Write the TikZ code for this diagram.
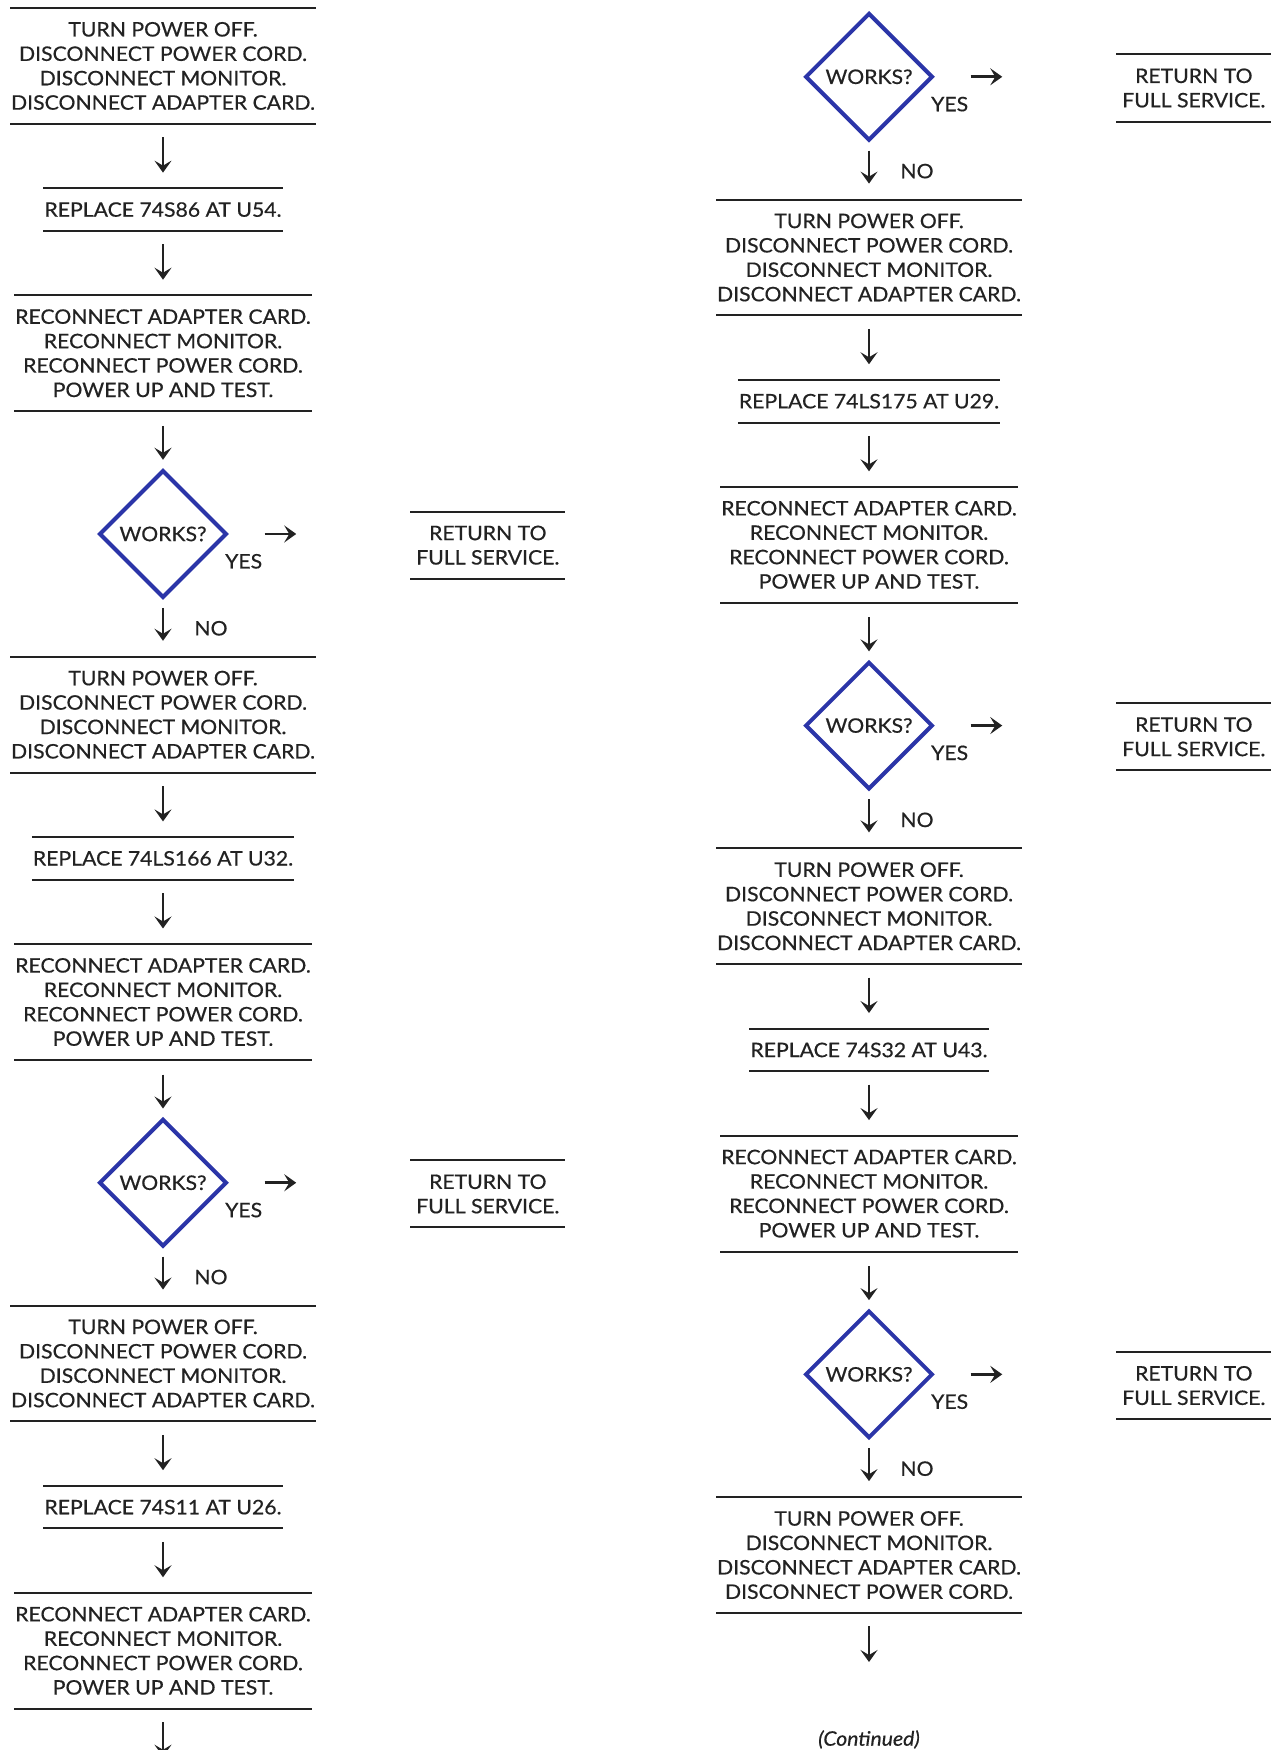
\documentclass[tikz,border=0pt]{standalone}
\usepackage{fontspec}
\setmainfont{Lato}[FakeBold=0.5,FakeStretch=1.06]
\usetikzlibrary{arrows.meta,positioning,shapes.geometric}
\definecolor{ink}{HTML}{222222}
\definecolor{dblue}{HTML}{2B35A8}

\begin{document}
\begin{tikzpicture}[x=0.5pt,y=0.5pt,node distance=32.2pt,
  every node/.style={text=ink,font=\fontsize{10}{12.2}\selectfont},
  box/.style={align=center,inner xsep=0.5pt,inner ysep=7pt,outer sep=0pt},
  ret/.style={box,inner xsep=3pt},
  dec/.style={diamond,draw=dblue,line width=2pt,minimum size=63.8pt,inner sep=0pt},
  lbl/.style={inner sep=0pt},
  rule/.style={draw=ink,line width=1pt},
  arr/.style={-{Stealth[length=6pt,width=8.5pt,inset=2.5pt]},line width=1.4pt,draw=ink,shorten <=6.7pt,shorten >=7.8pt},
  arrin/.style={arr,shorten <=7.3pt,shorten >=4.2pt},
  arrout/.style={arr,shorten <=4pt,shorten >=8pt},
  yesarr/.style={arr,shorten <=17.9pt,shorten >=57pt}]
\useasboundingbox (0,0) rectangle (1278,-1750);

% left column
\node[box,anchor=north] (off1) at (163,-8) {TURN POWER OFF.\\DISCONNECT POWER CORD.\\DISCONNECT MONITOR.\\DISCONNECT ADAPTER CARD.};
\node[box,below=of off1] (rep1) {REPLACE 74S86 AT U54.};
\node[box,below=of rep1] (test1) {RECONNECT ADAPTER CARD.\\RECONNECT MONITOR.\\RECONNECT POWER CORD.\\POWER UP AND TEST.};
\node[dec,below=28.5pt of test1] (ok1) {WORKS?};
\node[lbl,below right=9.8pt and -2pt of ok1.east] (yes1) {YES};
\node[ret] (ret1) at ([xshift=162.4pt,yshift=-5.6pt]ok1.center) {RETURN TO\\FULL SERVICE.};
\node[box,below=28.5pt of ok1] (off2) {TURN POWER OFF.\\DISCONNECT POWER CORD.\\DISCONNECT MONITOR.\\DISCONNECT ADAPTER CARD.};
\node[box,below=of off2] (rep2) {REPLACE 74LS166 AT U32.};
\node[box,below=of rep2] (test2) {RECONNECT ADAPTER CARD.\\RECONNECT MONITOR.\\RECONNECT POWER CORD.\\POWER UP AND TEST.};
\node[dec,below=28.5pt of test2] (ok2) {WORKS?};
\node[lbl,below right=9.8pt and -2pt of ok2.east] (yes2) {YES};
\node[ret] (ret2) at ([xshift=162.4pt,yshift=-5.6pt]ok2.center) {RETURN TO\\FULL SERVICE.};
\node[box,below=28.5pt of ok2] (off3) {TURN POWER OFF.\\DISCONNECT POWER CORD.\\DISCONNECT MONITOR.\\DISCONNECT ADAPTER CARD.};
\node[box,below=of off3] (rep3) {REPLACE 74S11 AT U26.};
\node[box,below=of rep3] (test3) {RECONNECT ADAPTER CARD.\\RECONNECT MONITOR.\\RECONNECT POWER CORD.\\POWER UP AND TEST.};
\coordinate[below=24pt of test3] (endL);

% right column
\node[dec,anchor=north] (ok3) at (869,-11) {WORKS?};
\node[lbl,below right=9.8pt and -2pt of ok3.east] (yes3) {YES};
\node[ret] (ret3) at ([xshift=162.4pt,yshift=-5.6pt]ok3.center) {RETURN TO\\FULL SERVICE.};
\node[box,below=28.5pt of ok3] (off4) {TURN POWER OFF.\\DISCONNECT POWER CORD.\\DISCONNECT MONITOR.\\DISCONNECT ADAPTER CARD.};
\node[box,below=of off4] (rep4) {REPLACE 74LS175 AT U29.};
\node[box,below=of rep4] (test4) {RECONNECT ADAPTER CARD.\\RECONNECT MONITOR.\\RECONNECT POWER CORD.\\POWER UP AND TEST.};
\node[dec,below=28.5pt of test4] (ok4) {WORKS?};
\node[lbl,below right=9.8pt and -2pt of ok4.east] (yes4) {YES};
\node[ret] (ret4) at ([xshift=162.4pt,yshift=-5.6pt]ok4.center) {RETURN TO\\FULL SERVICE.};
\node[box,below=28.5pt of ok4] (off5) {TURN POWER OFF.\\DISCONNECT POWER CORD.\\DISCONNECT MONITOR.\\DISCONNECT ADAPTER CARD.};
\node[box,below=of off5] (rep5) {REPLACE 74S32 AT U43.};
\node[box,below=of rep5] (test5) {RECONNECT ADAPTER CARD.\\RECONNECT MONITOR.\\RECONNECT POWER CORD.\\POWER UP AND TEST.};
\node[dec,below=28.5pt of test5] (ok5) {WORKS?};
\node[lbl,below right=9.8pt and -2pt of ok5.east] (yes5) {YES};
\node[ret] (ret5) at ([xshift=162.4pt,yshift=-5.6pt]ok5.center) {RETURN TO\\FULL SERVICE.};
\node[box,below=28.5pt of ok5] (off6) {TURN POWER OFF.\\DISCONNECT MONITOR.\\DISCONNECT ADAPTER CARD.\\DISCONNECT POWER CORD.};
\coordinate[below=24.5pt of off6] (endR);
\node[anchor=south,inner sep=0pt,font=\itshape\fontsize{10}{12}\selectfont] (cont) at (869,-1749) {(Continued)};

% rules above and below each step
\foreach \n in {off1,rep1,test1,ret1,off2,rep2,test2,ret2,off3,rep3,test3,ret3,off4,rep4,test4,ret4,off5,rep5,test5,ret5,off6}
  \draw[rule] (\n.north west) -- (\n.north east) (\n.south west) -- (\n.south east);

% arrows
\draw[arr] (off1) -- (rep1); \draw[arr] (rep1) -- (test1); \draw[arrin] (test1) -- (ok1);
\draw[arrout] (ok1) -- node[lbl,right=15pt]{NO} (off2); \draw[yesarr] (ok1.east) -- (ok1.east -| ret1.west);
\draw[arr] (off2) -- (rep2); \draw[arr] (rep2) -- (test2); \draw[arrin] (test2) -- (ok2);
\draw[arrout] (ok2) -- node[lbl,right=15pt]{NO} (off3); \draw[yesarr] (ok2.east) -- (ok2.east -| ret2.west);
\draw[arr] (off3) -- (rep3); \draw[arr] (rep3) -- (test3); \draw[arr,shorten >=0pt] (test3) -- (endL);
\draw[arrout] (ok3) -- node[lbl,right=15pt]{NO} (off4); \draw[yesarr] (ok3.east) -- (ok3.east -| ret3.west);
\draw[arr] (off4) -- (rep4); \draw[arr] (rep4) -- (test4); \draw[arrin] (test4) -- (ok4);
\draw[arrout] (ok4) -- node[lbl,right=15pt]{NO} (off5); \draw[yesarr] (ok4.east) -- (ok4.east -| ret4.west);
\draw[arr] (off5) -- (rep5); \draw[arr] (rep5) -- (test5); \draw[arrin] (test5) -- (ok5);
\draw[arrout] (ok5) -- node[lbl,right=15pt]{NO} (off6); \draw[yesarr] (ok5.east) -- (ok5.east -| ret5.west);
\draw[arr,shorten >=0pt] (off6) -- (endR);
\end{tikzpicture}
\end{document}
